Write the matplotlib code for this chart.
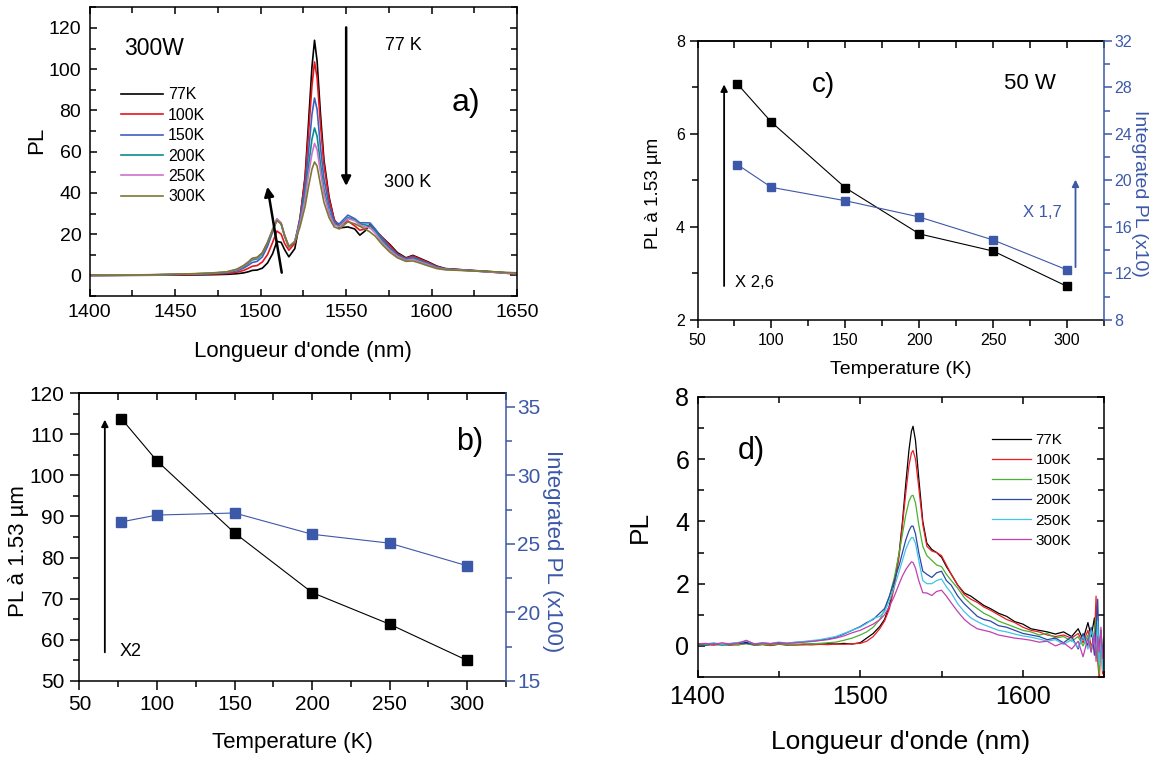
import numpy as np
import matplotlib
matplotlib.use("Agg")
import matplotlib.pyplot as plt
from matplotlib.ticker import MultipleLocator

plt.rcParams['font.family'] = ['Liberation Sans', 'DejaVu Sans']

# ---------------- data ----------------
temps = ['77K', '100K', '150K', '200K', '250K', '300K']

# panel a) spectra at 300 W
lam_a = [1400, 1420, 1440, 1460, 1470, 1480, 1486, 1490, 1493, 1495, 1498, 1501, 1504, 1507, 1509.5,
         1512, 1514, 1516.5, 1520, 1523, 1526, 1528, 1530, 1531.5, 1533, 1535, 1537, 1540, 1543, 1546,
         1551, 1555, 1558, 1561, 1564, 1567, 1571, 1575.5, 1580, 1585, 1589, 1593, 1598, 1603, 1608,
         1620, 1635, 1650]
pl_a_77 = [0, 0, 0.1, 0.2, 0.3, 0.5, 0.8, 1.2, 1.8, 2.4, 2.6, 3.5, 6, 10.5, 16.5, 16, 12.5, 9, 13, 27,
           48, 74, 101, 114, 104, 78, 56, 38, 27, 23, 23.5, 22.5, 19.5, 21.5, 24.8, 22, 18.5, 15, 11,
           8.5, 9.7, 8.3, 6.5, 4.5, 3.3, 2.6, 1.8, 0.8]
pl_a_100 = [0, 0.1, 0.2, 0.4, 0.6, 0.9, 1.5, 2.4, 3.5, 4.4, 4.8, 6.5, 10, 16, 21.5, 20, 15.5, 12.2, 15.5,
            28, 47, 69, 92, 103.5, 96, 73, 54, 37, 27, 24, 26.4, 24, 21.9, 22.5, 24.5, 22, 18.5, 14.5,
            10.5, 8.3, 9.4, 8, 6.2, 4.3, 3.2, 2.5, 1.6, 0.6]
pl_a_150 = [0, 0.1, 0.3, 0.6, 0.9, 1.3, 2.2, 3.5, 5, 6.2, 6.8, 9, 14, 21, 27.2, 25, 19, 13.8, 16.5, 27,
            43, 60, 78, 86, 80.5, 62, 47, 34, 26, 25, 29.2, 27.5, 25.5, 25.5, 25.4, 22.5, 18, 13.5, 10,
            8, 8.8, 7.4, 5.8, 4, 3.1, 2.5, 1.7, 0.7]
pl_a_200 = [0, 0.1, 0.3, 0.7, 1.0, 1.5, 2.6, 4.2, 6, 7.5, 8, 10.5, 15.5, 22, 27.2, 25, 19, 13.8, 16.5,
            26, 40, 53, 66, 71.5, 67.5, 54, 42, 31, 25, 24, 28, 27, 25, 24.5, 24, 21.5, 17, 12.8, 9.5,
            7.6, 8.3, 7, 5.5, 3.8, 3, 2.4, 1.6, 0.8]
pl_a_250 = [0, 0.1, 0.3, 0.7, 1.0, 1.6, 2.8, 4.5, 6.4, 8, 8.5, 11, 16, 22.5, 27.5, 25.5, 19.5, 14, 16.5,
            25, 37, 49, 59, 64, 61, 50, 39.5, 30, 24.5, 23.5, 27.5, 26.5, 24.5, 23.5, 23, 20.5, 16,
            12.3, 9.2, 7.3, 7.8, 6.6, 5.2, 3.6, 2.9, 2.4, 1.6, 0.9]
pl_a_300 = [0, 0.1, 0.4, 0.8, 1.1, 1.7, 3, 4.8, 6.7, 8.3, 8.8, 11, 16, 22, 26.5, 25, 19.5, 14, 16, 23.5,
            33.5, 43, 51.5, 55, 53, 44, 35.5, 28, 23.5, 22.5, 26, 25, 23.8, 22.5, 21, 19, 15, 11.3,
            8.5, 6.8, 7, 6, 4.6, 3.3, 2.7, 2.3, 1.8, 1.2]
colors_a = ['#000000', '#e8141c', '#4060c0', '#0b8c8c', '#d070d0', '#7a7a30']

# panel b) 300 W vs temperature
temp_k = [77, 100, 150, 200, 250, 300]
peak_b = [113.8, 103.5, 86, 71.5, 63.8, 55]
integ_b = [26.6, 27.1, 27.25, 25.7, 25.05, 23.4]

# panel c) 50 W vs temperature
peak_c = [7.07, 6.25, 4.84, 3.85, 3.48, 2.72]
integ_c = [21.35, 19.4, 18.25, 16.85, 14.87, 12.3]

# panel d) spectra at 50 W
lam_d = [1400, 1405, 1410, 1415, 1420, 1425, 1430, 1435, 1440, 1445, 1450, 1455, 1460, 1465, 1470,
         1475, 1480, 1485, 1490, 1495, 1500, 1504, 1508, 1512, 1515, 1518, 1521, 1524, 1526, 1528,
         1530, 1531.5, 1532.5, 1534, 1536, 1538.5, 1541, 1544, 1547, 1550, 1553, 1556, 1560, 1564,
         1568, 1572, 1576, 1580, 1585, 1590, 1595, 1600, 1605, 1610, 1615, 1620, 1625, 1630, 1634,
         1637, 1640, 1642, 1644, 1645, 1646, 1647, 1648, 1649, 1650]
pl_d_77 = [0.05, 0.02, 0.06, 0.04, 0.03, 0.05, 0.12, 0.03, 0.05, 0.02, 0.06, 0.03, 0.05, 0.04, 0.06,
           0.05, 0.07, 0.06, 0.08, 0.06, 0.1, 0.25, 0.4, 0.62, 0.85, 1.3, 2.0, 3.0, 4.0, 5.2, 6.3,
           6.9, 7.06, 6.6, 5.4, 4.0, 3.3, 3.1, 3.0, 2.85, 2.55, 2.3, 1.95, 1.7, 1.6, 1.45, 1.3, 1.2,
           1.05, 0.95, 0.78, 0.7, 0.55, 0.5, 0.45, 0.38, 0.45, 0.3, 0.55, 0.2, 0.75, 0.3, 0.9, 0.1,
           0.6, -0.2, 0.5, -0.3, 0.2]
pl_d_100 = [0.03, 0.05, 0.02, 0.06, 0.04, 0.03, 0.08, 0.02, 0.04, 0.01, 0.05, 0.03, 0.02, 0.04, 0.03,
            0.05, 0.04, 0.06, 0.05, 0.07, 0.08, 0.15, 0.3, 0.55, 0.8, 1.2, 1.9, 2.9, 3.9, 4.9, 5.8,
            6.2, 6.28, 6.0, 5.1, 3.9, 3.2, 3.05, 3.0, 2.9, 2.6, 2.3, 1.95, 1.65, 1.5, 1.4, 1.25, 1.15,
            1.0, 0.85, 0.75, 0.6, 0.5, 0.45, 0.35, 0.3, 0.35, 0.25, 0.4, 0.1, 0.5, 0.0, 0.2, 1.6,
            -0.5, -1.1, 0.4, -0.9, 0.1]
pl_d_150 = [0.04, 0.03, 0.05, 0.02, 0.06, 0.04, 0.07, 0.03, 0.05, 0.04, 0.06, 0.05, 0.04, 0.07, 0.06,
            0.08, 0.1, 0.12, 0.18, 0.25, 0.35, 0.45, 0.6, 0.85, 1.15, 1.6, 2.2, 3.0, 3.6, 4.2, 4.65,
            4.82, 4.84, 4.6, 3.9, 3.2, 2.9, 2.75, 2.6, 2.55, 2.3, 2.1, 1.85, 1.55, 1.35, 1.2, 1.05,
            0.95, 0.8, 0.7, 0.6, 0.5, 0.45, 0.35, 0.4, 0.25, 0.3, 0.15, 0.3, 0.0, 0.35, -0.2, 0.5,
            0.9, -0.3, -0.9, 0.5, -0.4, 0.3]
pl_d_200 = [0.06, 0.05, 0.08, 0.04, 0.07, 0.1, 0.08, 0.06, 0.09, 0.07, 0.1, 0.08, 0.11, 0.13, 0.15,
            0.18, 0.22, 0.28, 0.38, 0.5, 0.62, 0.75, 0.85, 1.05, 1.2, 1.6, 2.1, 2.6, 3.0, 3.4, 3.7,
            3.85, 3.85, 3.6, 3.0, 2.4, 2.3, 2.2, 2.35, 2.4, 2.1, 1.95, 1.6, 1.35, 1.15, 0.95, 0.85,
            0.8, 0.65, 0.6, 0.5, 0.4, 0.35, 0.3, 0.2, 0.25, 0.1, 0.3, -0.1, 0.4, 0.0, 0.6, -0.3, 0.5,
            1.5, -0.4, 0.2, -0.2, 0.1]
pl_d_250 = [0.08, 0.06, 0.1, 0.05, 0.08, 0.11, 0.15, 0.07, 0.1, 0.08, 0.12, 0.09, 0.12, 0.14, 0.17,
            0.2, 0.25, 0.3, 0.4, 0.5, 0.6, 0.72, 0.88, 0.95, 1.1, 1.45, 1.9, 2.4, 2.75, 3.1, 3.35,
            3.48, 3.48, 3.3, 2.75, 2.1, 2.0, 2.0, 2.1, 2.15, 1.9, 1.7, 1.35, 1.1, 0.9, 0.78, 0.68,
            0.6, 0.5, 0.45, 0.38, 0.32, 0.28, 0.22, 0.15, 0.2, 0.05, 0.2, -0.05, 0.3, -0.1, 0.5, 0.1,
            -0.3, 0.8, -0.6, 0.3, -0.8, 0.2]
pl_d_300 = [0.07, 0.08, 0.05, 0.1, 0.06, 0.09, 0.18, 0.06, 0.09, 0.07, 0.11, 0.08, 0.1, 0.12, 0.14,
            0.17, 0.2, 0.25, 0.32, 0.42, 0.5, 0.6, 0.7, 0.84, 1.0, 1.27, 1.6, 2.0, 2.25, 2.45, 2.6,
            2.7, 2.68, 2.5, 2.1, 1.71, 1.7, 1.62, 1.75, 1.79, 1.6, 1.38, 1.1, 0.85, 0.68, 0.55, 0.5,
            0.45, 0.35, 0.3, 0.25, 0.22, 0.18, 0.12, 0.15, 0.0, 0.1, -0.1, 0.15, -0.35, 0.25, -0.2,
            0.4, -0.5, 0.3, -0.2, 0.6, -0.4, 0.1]
colors_d = ['#000000', '#ee1c24', '#4cb030', '#2a48a8', '#40c4e8', '#c040b0']

blue = '#3c58a8'

fig = plt.figure(figsize=(11.55, 7.58), dpi=100)
W, H = 1155, 758


def box(l, t, r, b):
    return [l / W, (H - b) / H, (r - l) / W, (b - t) / H]


# ---------------- a) ----------------
ax = fig.add_axes(box(89.6, 7.3, 517.2, 296))
spectra_a = [pl_a_77, pl_a_100, pl_a_150, pl_a_200, pl_a_250, pl_a_300]
for lab, yv, c in zip(temps, spectra_a, colors_a):
    ax.plot(lam_a, yv, color=c, lw=1.2, label=lab)
ax.set_xlim(1400, 1650)
ax.set_ylim(-10, 130)
ax.xaxis.set_major_locator(MultipleLocator(50))
ax.xaxis.set_minor_locator(MultipleLocator(25))
ax.yaxis.set_major_locator(MultipleLocator(20))
ax.yaxis.set_minor_locator(MultipleLocator(10))
ax.tick_params(which='both', direction='in', top=True, right=True, labelsize=14, pad=6, width=1.1)
ax.tick_params(which='major', length=5)
ax.tick_params(which='minor', length=4)
for s in ax.spines.values():
    s.set_linewidth(1.1)
ax.set_xlabel("Longueur d'onde (nm)", fontsize=16, va='center')
ax.xaxis.set_label_coords(0.498, -0.193)
ax.set_ylabel('PL', fontsize=16, va='center')
ax.yaxis.set_label_coords(-0.123, 0.54)
ax.legend(loc='upper left', bbox_to_anchor=(0.0737, 0.723), frameon=False, fontsize=11.5,
          borderpad=0, borderaxespad=0, handlelength=2.6, handletextpad=0.35, labelspacing=0.34)
ax.text(1420, 110, '300W', fontsize=16.5, va='center')
ax.text(1573, 111.5, '77 K', fontsize=13, va='center')
ax.text(1572, 45, '300 K', fontsize=13, va='center')
ax.text(1611.5, 83.5, 'a)', fontsize=23, va='center')
ax.annotate('', xy=(1550, 42), xytext=(1550, 121.6),
            arrowprops=dict(arrowstyle='-|>', lw=1.8, color='k', mutation_scale=14))
ax.annotate('', xy=(1503.7, 44.3), xytext=(1512.6, 0),
            arrowprops=dict(arrowstyle='-|>', lw=1.8, color='k', mutation_scale=14))

# ---------------- b) ----------------
ax = fig.add_axes(box(79.4, 393, 506, 681))
ax.plot(temp_k, peak_b, color='k', lw=0.8, marker='s', ms=7, mec='k')
ax.set_xlim(50, 325)
ax.set_ylim(50, 120)
ax.xaxis.set_major_locator(MultipleLocator(50))
ax.xaxis.set_minor_locator(MultipleLocator(25))
ax.yaxis.set_major_locator(MultipleLocator(10))
ax.yaxis.set_minor_locator(MultipleLocator(5))
ax.tick_params(which='both', direction='out', labelsize=15, width=1.1)
ax.tick_params(which='major', length=6.5)
ax.tick_params(which='minor', length=4)
ax.tick_params(axis='x', pad=3.5)
ax.tick_params(axis='y', pad=4.5)
ax.spines['right'].set_visible(False)
for s in ax.spines.values():
    s.set_linewidth(1.1)
sec = ax.secondary_xaxis('top')
sec.xaxis.set_major_locator(MultipleLocator(50))
sec.xaxis.set_minor_locator(MultipleLocator(25))
sec.tick_params(which='both', direction='in', length=5, width=1.1, labeltop=False)
sec.spines['top'].set_linewidth(1.1)
ax.set_xlabel('Temperature (K)', fontsize=16, va='center')
ax.xaxis.set_label_coords(0.499, -0.215)
ax.set_ylabel('PL à 1.53 µm', fontsize=16, va='center')
ax.yaxis.set_label_coords(-0.1425, 0.451)
ax.text(301.7, 108.2, 'b)', fontsize=22, ha='center', va='center')
ax.text(76.2, 57.1, 'X2', fontsize=13, va='center')
ax.annotate('', xy=(66.4, 114.2), xytext=(66.4, 56.3),
            arrowprops=dict(arrowstyle='-|>', lw=1.3, color='k', mutation_scale=10))
ax2 = ax.twinx()
ax2.plot(temp_k, integ_b, color=blue, lw=0.8, marker='s', ms=6.5, mec=blue)
ax2.set_ylim(15, 36)
ax2.yaxis.set_major_locator(MultipleLocator(5))
ax2.yaxis.set_minor_locator(MultipleLocator(2.5))
ax2.tick_params(axis='y', which='both', direction='out', colors=blue, labelsize=15, width=1.1, pad=1.5)
ax2.tick_params(axis='y', which='major', length=6.5)
ax2.tick_params(axis='y', which='minor', length=4)
ax2.spines['right'].set_color(blue)
ax2.spines['right'].set_linewidth(1.1)
for k in ('left', 'top', 'bottom'):
    ax2.spines[k].set_visible(False)
ax2.set_ylabel('Integrated PL (x100)', fontsize=16, color=blue, rotation=270, va='center')
ax2.yaxis.set_label_coords(1.108, 0.451)

# ---------------- c) ----------------
ax = fig.add_axes(box(697.5, 40.7, 1104.2, 320))
ax.plot(temp_k, peak_c, color='k', lw=0.8, marker='s', ms=6, mec='k')
ax.set_xlim(50, 325)
ax.set_ylim(2, 8)
ax.xaxis.set_major_locator(MultipleLocator(50))
ax.xaxis.set_minor_locator(MultipleLocator(25))
ax.yaxis.set_major_locator(MultipleLocator(2))
ax.yaxis.set_minor_locator(MultipleLocator(1))
ax.tick_params(which='both', direction='out', labelsize=11.5, width=1.1)
ax.tick_params(which='major', length=6)
ax.tick_params(which='minor', length=4)
ax.tick_params(axis='x', pad=3.5)
ax.tick_params(axis='y', pad=3)
ax.spines['right'].set_visible(False)
for s in ax.spines.values():
    s.set_linewidth(1.1)
sec = ax.secondary_xaxis('top')
sec.xaxis.set_major_locator(MultipleLocator(50))
sec.xaxis.set_minor_locator(MultipleLocator(25))
sec.tick_params(which='both', direction='in', length=5, width=1.1, labeltop=False)
sec.spines['top'].set_linewidth(1.1)
ax.set_xlabel('Temperature (K)', fontsize=14, va='center')
ax.xaxis.set_label_coords(0.5, -0.179)
ax.set_ylabel('PL à 1.53 µm', fontsize=13.5, va='center')
ax.yaxis.set_label_coords(-0.108, 0.453)
ax.text(135, 7.05, 'c)', fontsize=20, ha='center', va='center')
ax.text(275, 7.07, '50 W', fontsize=16, ha='center', va='center')
ax.text(75.6, 2.8, 'X 2,6', fontsize=12, va='center')
ax.annotate('', xy=(68, 7.12), xytext=(68, 2.67),
            arrowprops=dict(arrowstyle='-|>', lw=1.3, color='k', mutation_scale=10))
ax2 = ax.twinx()
ax2.plot(temp_k, integ_c, color=blue, lw=0.8, marker='s', ms=5.5, mec=blue)
ax2.set_ylim(8, 32)
ax2.yaxis.set_major_locator(MultipleLocator(4))
ax2.yaxis.set_minor_locator(MultipleLocator(2))
ax2.tick_params(axis='y', which='both', direction='out', colors=blue, labelsize=11.5, width=1.1, pad=1.5)
ax2.tick_params(axis='y', which='major', length=6)
ax2.tick_params(axis='y', which='minor', length=4)
ax2.spines['right'].set_color(blue)
ax2.spines['right'].set_linewidth(1.1)
for k in ('left', 'top', 'bottom'):
    ax2.spines[k].set_visible(False)
ax2.set_ylabel('Integrated PL (x10)', fontsize=14, color=blue, rotation=270, va='center')
ax2.yaxis.set_label_coords(1.088, 0.453)
ax2.text(283.4, 17.2, 'X 1,7', fontsize=12, color=blue, ha='center', va='center')
ax2.annotate('', xy=(305.6, 20.3), xytext=(305.6, 12.3),
             arrowprops=dict(arrowstyle='-|>', lw=1.3, color=blue, mutation_scale=10))

# ---------------- d) ----------------
ax = fig.add_axes(box(697.5, 397, 1104.2, 677))
spectra_d = [pl_d_77, pl_d_100, pl_d_150, pl_d_200, pl_d_250, pl_d_300]
for lab, yv, c in zip(temps, spectra_d, colors_d):
    ax.plot(lam_d, yv, color=c, lw=0.9, label=lab)
ax.set_xlim(1400, 1650)
ax.set_ylim(-1, 8)
ax.xaxis.set_major_locator(MultipleLocator(100))
ax.xaxis.set_minor_locator(MultipleLocator(50))
ax.yaxis.set_major_locator(MultipleLocator(2))
ax.yaxis.set_minor_locator(MultipleLocator(1))
ax.tick_params(which='both', direction='in', top=True, right=True, labelsize=18, pad=6, width=1.1)
ax.tick_params(which='major', length=5)
ax.tick_params(which='minor', length=4)
for s in ax.spines.values():
    s.set_linewidth(1.1)
ax.set_xlabel("Longueur d'onde (nm)", fontsize=19, va='center')
ax.xaxis.set_label_coords(0.5, -0.232)
ax.set_ylabel('PL', fontsize=19, va='center')
ax.yaxis.set_label_coords(-0.142, 0.536)
ax.legend(loc='upper left', bbox_to_anchor=(0.724, 0.871), frameon=False, fontsize=11,
          borderpad=0, borderaxespad=0, handlelength=2.55, handletextpad=0.3, labelspacing=0.4)
ax.text(1433, 6.25, 'd)', fontsize=22, ha='center', va='center')

fig.savefig('out.png', dpi=100)
